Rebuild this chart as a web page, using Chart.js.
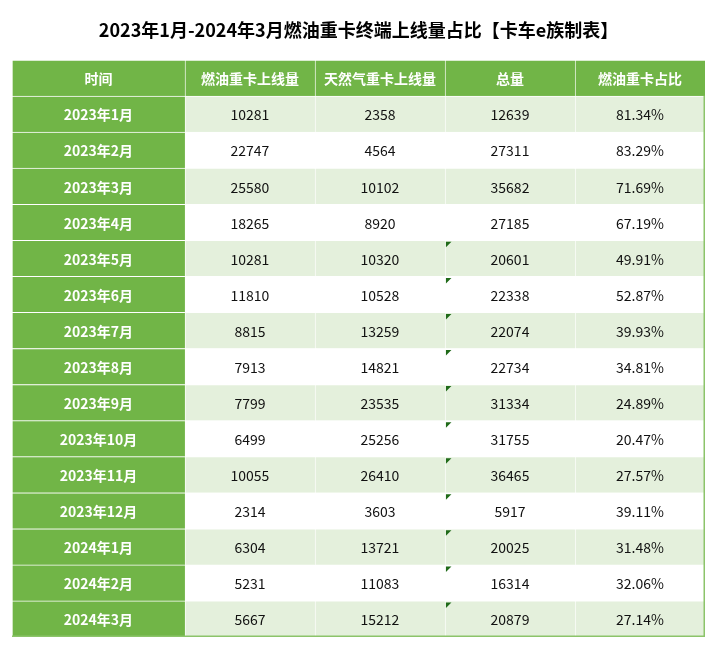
<!DOCTYPE html>
<html>
<head>
<meta charset="utf-8">
<script src="https://cdn.jsdelivr.net/npm/chart.js@4/dist/chart.umd.min.js"></script>
<style>
  html, body { margin: 0; padding: 0; background: #fff; }
  #wrap { width: 720px; height: 651px; }
</style>
</head>
<body>
<div id="wrap"><canvas id="tabla"></canvas></div>
<script>
// Datos de la tabla
const titulo = "2023年1月-2024年3月燃油重卡终端上线量占比【卡车e族制表】";
const encabezados = ["时间", "燃油重卡上线量", "天然气重卡上线量", "总量", "燃油重卡占比"];
const meses = [
  "2023年1月", "2023年2月", "2023年3月", "2023年4月", "2023年5月",
  "2023年6月", "2023年7月", "2023年8月", "2023年9月", "2023年10月",
  "2023年11月", "2023年12月", "2024年1月", "2024年2月", "2024年3月"
];
const combustible = [10281, 22747, 25580, 18265, 10281, 11810, 8815, 7913, 7799, 6499, 10055, 2314, 6304, 5231, 5667];
const gasNatural = [2358, 4564, 10102, 8920, 10320, 10528, 13259, 14821, 23535, 25256, 26410, 3603, 13721, 11083, 15212];
const totales = [12639, 27311, 35682, 27185, 20601, 22338, 22074, 22734, 31334, 31755, 36465, 5917, 20025, 16314, 20879];
const participacion = ["81.34%", "83.29%", "71.69%", "67.19%", "49.91%", "52.87%", "39.93%", "34.81%", "24.89%", "20.47%", "27.57%", "39.11%", "31.48%", "32.06%", "27.14%"];

// Estilo
const VERDE = "#71b547";
const VERDE_CLARO = "#e4f0dc";
const anchosColumna = [1.33, 1, 1, 1, 1];

const filas = ["encabezado", ...meses];
const columnas = [meses, combustible, gasNatural, totales, participacion];

// bordes de cada columna sobre la escala x
const bordes = [0];
anchosColumna.forEach((w) => bordes.push(bordes[bordes.length - 1] + w));

const colorCelda = (fila, col) => {
  if (fila === 0 || col === 0) return VERDE;
  return fila % 2 === 1 ? VERDE_CLARO : "#ffffff";
};

const datasets = encabezados.map((h, c) => ({
  label: h,
  data: filas.map(() => [bordes[c], bordes[c + 1]]),
  backgroundColor: (ctx) => colorCelda(ctx.dataIndex, c),
  borderColor: "#ffffff",
  borderWidth: { top: 1, left: 1, right: 0, bottom: 0 },
  borderSkipped: false,
}));

const textoCelda = (fila, col) => {
  if (fila === 0) return encabezados[col];
  const v = columnas[col][fila - 1];
  return String(v);
};

const textosPlugin = {
  id: "textos",
  afterDatasetsDraw(chart) {
    const { ctx } = chart;
    ctx.save();
    ctx.textAlign = "center";
    ctx.textBaseline = "middle";
    chart.data.datasets.forEach((ds, c) => {
      const meta = chart.getDatasetMeta(c);
      meta.data.forEach((bar, f) => {
        const { x, base, y, height } = bar.getProps(["x", "base", "y", "height"], true);
        const cx = (x + base) / 2;
        const negrita = f === 0 || c === 0;
        ctx.font = (negrita ? "bold " : "") + "14px 'Noto Sans CJK SC'";
        ctx.fillStyle = negrita ? "#ffffff" : "#111111";
        ctx.fillText(textoCelda(f, c), cx, y + 1);

        // marcas verdes de Excel en la columna de totales
        if (c === 3 && f >= 5) {
          const x0 = Math.min(x, base) + 1;
          const y0 = y - height / 2 + 1.5;
          ctx.fillStyle = "#1f6a18";
          ctx.beginPath();
          ctx.moveTo(x0, y0);
          ctx.lineTo(x0 + 5.5, y0);
          ctx.lineTo(x0, y0 + 5.5);
          ctx.closePath();
          ctx.fill();
        }
      });
    });

    // borde derecho e inferior de la tabla
    const xs = chart.scales.x;
    const area = chart.chartArea;
    const derecha = xs.getPixelForValue(bordes[bordes.length - 1]);
    const izquierda = xs.getPixelForValue(bordes[0]);
    ctx.strokeStyle = "#8cc46a";
    ctx.lineWidth = 1.5;
    ctx.beginPath();
    ctx.moveTo(derecha - 0.75, area.top + 36);
    ctx.lineTo(derecha - 0.75, area.bottom - 0.75);
    ctx.lineTo(izquierda, area.bottom - 0.75);
    ctx.stroke();
    ctx.restore();
  },
};

Chart.defaults.font.family = "'Noto Sans CJK SC', 'Noto Sans', sans-serif";

new Chart(document.getElementById("tabla"), {
  type: "bar",
  data: { labels: filas, datasets },
  options: {
    indexAxis: "y",
    responsive: true,
    maintainAspectRatio: false,
    animation: false,
    layout: { padding: { left: 12, right: 15, bottom: 14, top: 0 } },
    datasets: { bar: { grouped: false, barPercentage: 1, categoryPercentage: 1 } },
    scales: {
      x: { type: "linear", min: bordes[0], max: bordes[bordes.length - 1], display: false },
      y: { type: "category", display: false, grid: { display: false } },
    },
    plugins: {
      legend: { display: false },
      tooltip: { enabled: false },
      title: {
        display: true,
        text: titulo,
        color: "#000000",
        font: { size: 18, weight: "bold" },
        padding: { top: 19, bottom: 19.4 },
      },
    },
  },
  plugins: [textosPlugin],
});
</script>
</body>
</html>
